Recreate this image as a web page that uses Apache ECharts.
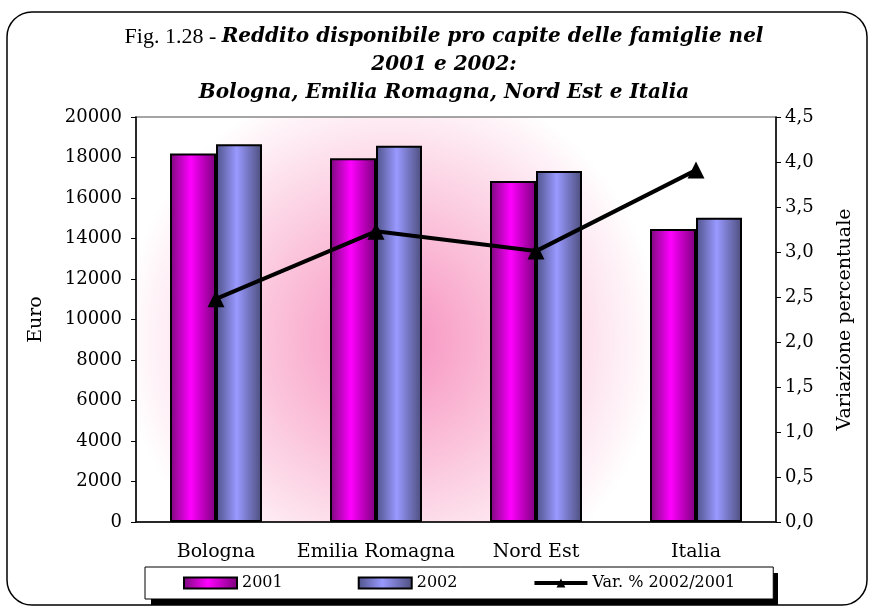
<!DOCTYPE html>
<html>
<head>
<meta charset="utf-8">
<script src="https://cdn.jsdelivr.net/npm/echarts@6/dist/echarts.min.js"></script>
<style>
  html, body { margin: 0; padding: 0; background: #fff; }
  #chart { width: 874px; height: 610px; }
</style>
</head>
<body>
<div id="chart"></div>
<script>
// dati
var categorie = ['Bologna', 'Emilia Romagna', 'Nord Est', 'Italia'];
var reddito2001 = [18200, 17960, 16840, 14470];
var reddito2002 = [18660, 18580, 17330, 15030];
var variazione = [2.48, 3.23, 3.01, 3.91];

(function () {
    var myChart = echarts.init(document.getElementById('chart'));
    var serif = 'DejaVu Serif';

    var option = {
        animation: false,
        backgroundColor: '#fff',
        title: {
            text: '{a|Fig. 1.28 - }{b|Reddito disponibile pro capite delle famiglie nel}\n{b|2001 e 2002:}\n{b|Bologna, Emilia Romagna, Nord Est e Italia}',
            left: 439,
            textAlign: 'center',
            top: 18,
            textStyle: {
                lineHeight: 28,
                fontWeight: 'normal',
                rich: {
                    a: { fontFamily: 'Liberation Serif', fontSize: 22, fontWeight: 'normal', color: '#000', lineHeight: 28 },
                    b: { fontFamily: serif, fontSize: 20, fontWeight: 'bold', fontStyle: 'italic', color: '#000', lineHeight: 28 }
                }
            }
        },
        graphic: [
            {
                // cornice arrotondata
                type: 'rect',
                shape: { x: 7, y: 12, width: 860, height: 593, r: 25 },
                style: { fill: 'none', stroke: '#000', lineWidth: 1.5 },
                silent: true,
                z: -1
            },
            {
                // ombra della legenda
                type: 'rect',
                shape: { x: 151, y: 573, width: 627, height: 32 },
                style: { fill: '#000' },
                silent: true,
                z: 0
            }
        ],
        legend: {
            left: 145,
            top: 567,
            z: 10,
            padding: [8, 38, 8, 38],
            itemGap: 75,
            itemWidth: 53,
            itemHeight: 11,
            backgroundColor: '#fff',
            borderColor: '#000',
            borderWidth: 1,
            textStyle: { fontFamily: serif, fontSize: 16, color: '#000' },
            data: [
                { name: '2001', icon: 'rect' },
                { name: '2002', icon: 'rect' },
                { name: 'Var. % 2002/2001', lineStyle: { width: 4 } }
            ]
        },
        grid: {
            left: 136,
            right: 98,
            top: 117,
            bottom: 88,
            show: true,
            borderColor: '#888',
            borderWidth: 1.5,
            backgroundColor: new echarts.graphic.RadialGradient(0.4, 0.55, 0.66, [
                { offset: 0, color: '#f78fbf' },
                { offset: 0.45, color: '#fbc2da' },
                { offset: 1, color: '#ffffff' }
            ])
        },
        xAxis: {
            type: 'category',
            data: categorie,
            axisLine: { lineStyle: { color: '#000', width: 1.5 } },
            axisTick: { length: 7, lineStyle: { color: '#000' } },
            axisLabel: { interval: 0, margin: 21, fontFamily: serif, fontSize: 19, color: '#000' }
        },
        yAxis: [
            {
                type: 'value',
                min: 0,
                max: 20000,
                interval: 2000,
                name: 'Euro',
                nameLocation: 'middle',
                nameRotate: 90,
                nameGap: 90,
                nameTextStyle: { fontFamily: serif, fontSize: 19, color: '#000' },
                axisLine: { show: true, lineStyle: { color: '#000', width: 1.5 } },
                axisTick: { show: true, length: 5, lineStyle: { color: '#000' } },
                axisLabel: {
                    margin: 14,
                    fontFamily: serif,
                    fontSize: 18,
                    color: '#000',
                    formatter: function (v) { return String(v); }
                },
                splitLine: { show: false }
            },
            {
                type: 'value',
                min: 0,
                max: 4.5,
                interval: 0.5,
                name: 'Variazione percentuale',
                nameLocation: 'middle',
                nameRotate: 90,
                nameGap: 60,
                nameTextStyle: { fontFamily: serif, fontSize: 19, color: '#000' },
                axisLine: { show: true, lineStyle: { color: '#000', width: 1.5 } },
                axisTick: { show: true, length: 5, lineStyle: { color: '#000' } },
                axisLabel: {
                    margin: 9,
                    fontFamily: serif,
                    fontSize: 18,
                    color: '#000',
                    formatter: function (v) { return v.toFixed(1).replace('.', ','); }
                },
                splitLine: { show: false }
            }
        ],
        series: [
            {
                name: '2001',
                type: 'bar',
                barWidth: 46,
                barGap: '0%',
                itemStyle: {
                    borderColor: '#000',
                    borderWidth: 2,
                    color: new echarts.graphic.LinearGradient(0, 0, 1, 0, [
                        { offset: 0, color: '#7a0a7a' },
                        { offset: 0.45, color: '#ff00ff' },
                        { offset: 1, color: '#7a007a' }
                    ])
                },
                data: reddito2001
            },
            {
                name: '2002',
                type: 'bar',
                barWidth: 46,
                barGap: '0%',
                itemStyle: {
                    borderColor: '#000',
                    borderWidth: 2,
                    color: new echarts.graphic.LinearGradient(0, 0, 1, 0, [
                        { offset: 0, color: '#4f5288' },
                        { offset: 0.45, color: '#9999ff' },
                        { offset: 1, color: '#4c4e7c' }
                    ])
                },
                data: reddito2002
            },
            {
                name: 'Var. % 2002/2001',
                type: 'line',
                yAxisIndex: 1,
                z: 5,
                symbol: 'triangle',
                symbolSize: 17,
                lineStyle: { color: '#000', width: 4 },
                itemStyle: { color: '#000' },
                data: variazione
            }
        ]
    };

    myChart.setOption(option);

    window.addEventListener('resize', function () {
        myChart.resize();
    });
})();
</script>
</body>
</html>
